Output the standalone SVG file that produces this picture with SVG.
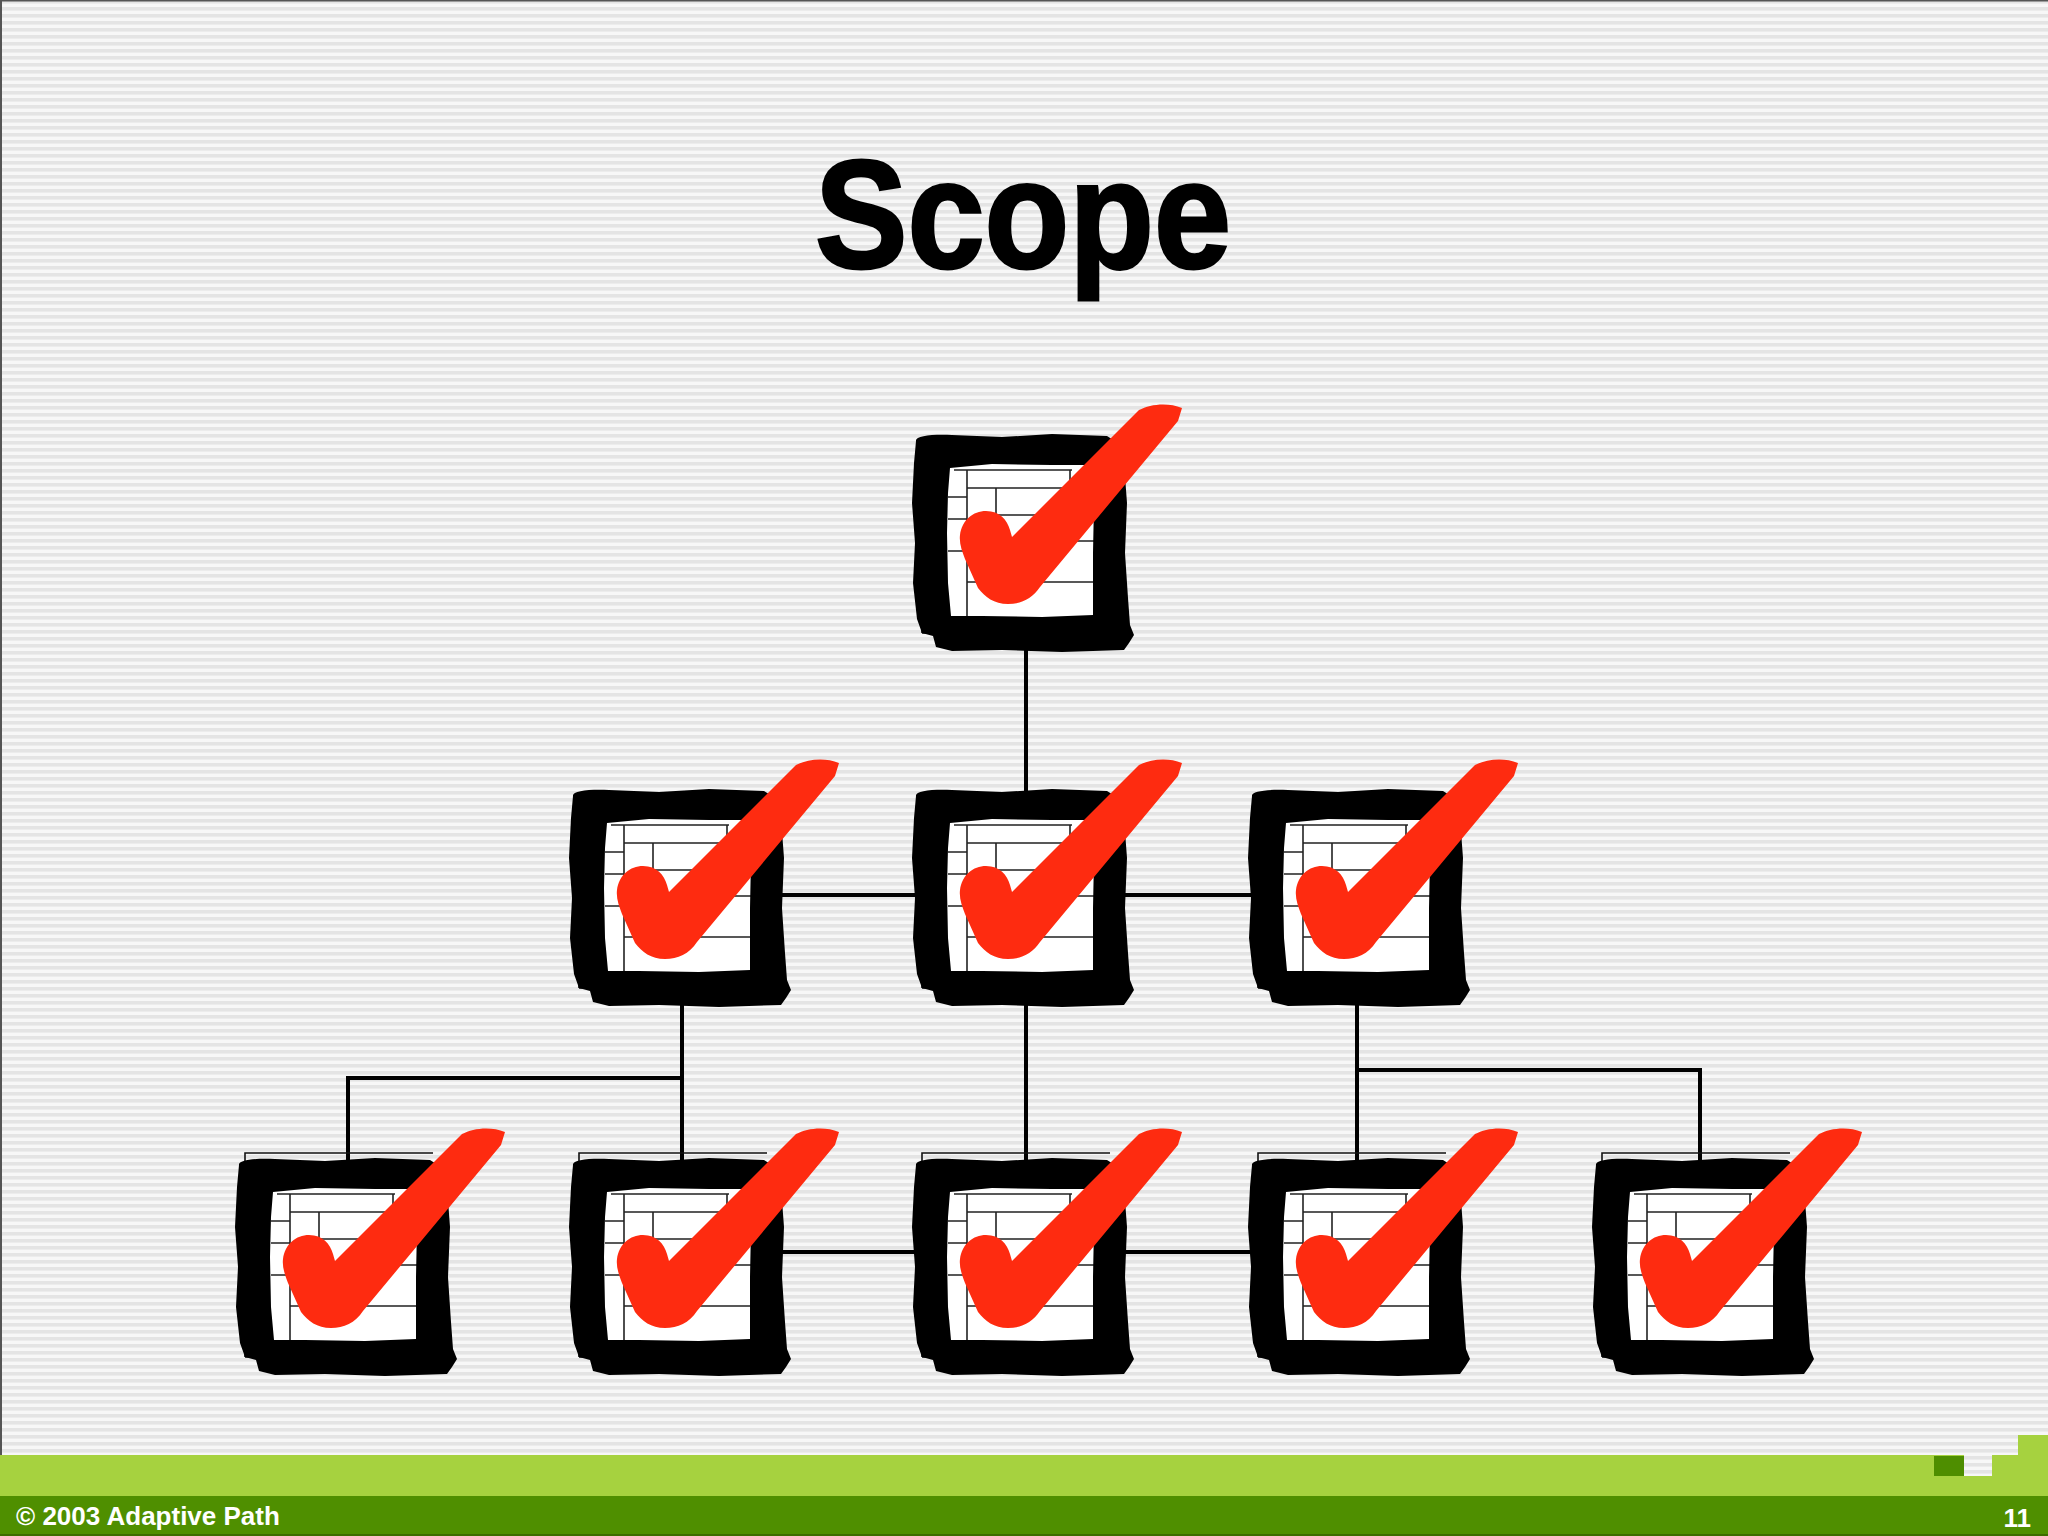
<svg xmlns="http://www.w3.org/2000/svg" xmlns:xlink="http://www.w3.org/1999/xlink" width="2048" height="1536" viewBox="0 0 2048 1536">
  <style>
    .conn { stroke: #000; stroke-width: 4; fill: none; }
    .grid { stroke: #222; stroke-width: 1.6; fill: none; }
    .thin { stroke: #111; stroke-width: 1.6; fill: none; }
    .frame { fill: #000; fill-rule: evenodd; }
    .check { fill: #fe2b10; }
    .title { font-family: "Liberation Sans", Arial, sans-serif; font-weight: bold; font-size: 154px; fill: #000; stroke: #000; stroke-width: 3px; }
    .foot { font-family: "Liberation Sans", Arial, sans-serif; font-weight: bold; font-size: 26px; fill: #fff; }
  </style>
  <defs>
    <pattern id="stripes" x="0" y="0" width="16" height="7" patternUnits="userSpaceOnUse">
      <rect x="0" y="0" width="16" height="7" fill="#f7f7f7"/>
      <rect x="0" y="0" width="16" height="3" fill="#e4e4e4"/>
      <rect x="0" y="3" width="16" height="1" fill="#ececec"/>
    </pattern>
    <g id="node">
      <path class="thin" d="M10 200 V20 M10 200 H30"/>
      <rect x="30" y="28" width="158" height="160" fill="#fff"/>
      <path class="grid" d="M42 37 H160 M55 37 V186 M158 37 V55 M55 55 H178 M84 55 V82 M84 82 H183 M158 82 V108 M98 108 H183 M55 149 H184 M36 64 H55 M36 86 H55 M36 118 H55"/>
      <path class="frame" d="M4 8 C3 3 20 1 40 2 L90 4 L140 1 L195 3 L206 10 L212 30 L215 70 L213 120 L216 165 L218 192 L222 202 L217 210 L212 217 L150 219 L90 217 L40 218 L24 214 L21 203 L10 200 L5 186 L1 150 L3 110 L0 70 L2 30 Z M38 35 L80 31 L140 32 L181 32 L182 70 L181 120 L181 182 L130 184 L70 183 L39 183 L36 150 L35 100 L36 60 Z"/>
      <path class="check" d="M48 102 C50 87 61 78 74 78 C88 78 95 87 98 97 L100 104 L227 -23 C238 -29 256 -31 270 -25 L266 -12 L128 154 C120 166 109 171 96 171 C82 171 73 164 66 155 L53 126 C50 118 47 110 48 102 Z"/>
    </g>
  </defs>

  <rect x="0" y="0" width="2048" height="1536" fill="url(#stripes)"/>
  <path d="M0 0.5 H2048 M1 0 V1455" stroke="#555" stroke-width="2" fill="none"/>

  <text class="title" text-anchor="middle" transform="translate(1023 268) scale(0.9 1)">Scope</text>

  <g id="connectors">
    <line class="conn" x1="1026" y1="540" x2="1026" y2="900"/>
    <line class="conn" x1="682" y1="895" x2="1358" y2="895"/>
    <line class="conn" x1="682" y1="900" x2="682" y2="1260"/>
    <polyline class="conn" points="682,1078 348,1078 348,1200"/>
    <line class="conn" x1="1026" y1="900" x2="1026" y2="1260"/>
    <line class="conn" x1="1357" y1="900" x2="1357" y2="1260"/>
    <polyline class="conn" points="1357,1070 1700,1070 1700,1200"/>
    <line class="conn" x1="682" y1="1252" x2="1358" y2="1252"/>
  </g>

  <g id="n1"><use xlink:href="#node" x="912" y="433"/></g>
  <g id="n2"><use xlink:href="#node" x="569" y="788"/></g>
  <g id="n3"><use xlink:href="#node" x="912" y="788"/></g>
  <g id="n4"><use xlink:href="#node" x="1248" y="788"/></g>
  <g id="n5"><path class="thin" d="M245 1175 V1153 H433"/><use xlink:href="#node" x="235" y="1157"/></g>
  <g id="n6"><path class="thin" d="M579 1175 V1153 H767"/><use xlink:href="#node" x="569" y="1157"/></g>
  <g id="n7"><path class="thin" d="M922 1175 V1153 H1110"/><use xlink:href="#node" x="912" y="1157"/></g>
  <g id="n8"><path class="thin" d="M1258 1175 V1153 H1446"/><use xlink:href="#node" x="1248" y="1157"/></g>
  <g id="n9"><path class="thin" d="M1602 1175 V1153 H1790"/><use xlink:href="#node" x="1592" y="1157"/></g>

  <g id="footer">
    <rect x="0" y="1455" width="2048" height="41" fill="#a6d23f"/>
    <rect x="2018" y="1435" width="30" height="20" fill="#a6d23f"/>
    <rect x="1964" y="1455" width="28" height="21" fill="url(#stripes)"/>
    <rect x="1934" y="1456" width="30" height="20" fill="#4e8e00"/>
    <rect x="0" y="1496" width="2048" height="40" fill="#4f8f00"/>
    <rect x="0" y="1534" width="2048" height="2" fill="#3d6d00"/>
    <text class="foot" x="16" y="1525">© 2003 Adaptive Path</text>
    <text class="foot" x="2031" y="1527" text-anchor="end">11</text>
  </g>
</svg>
